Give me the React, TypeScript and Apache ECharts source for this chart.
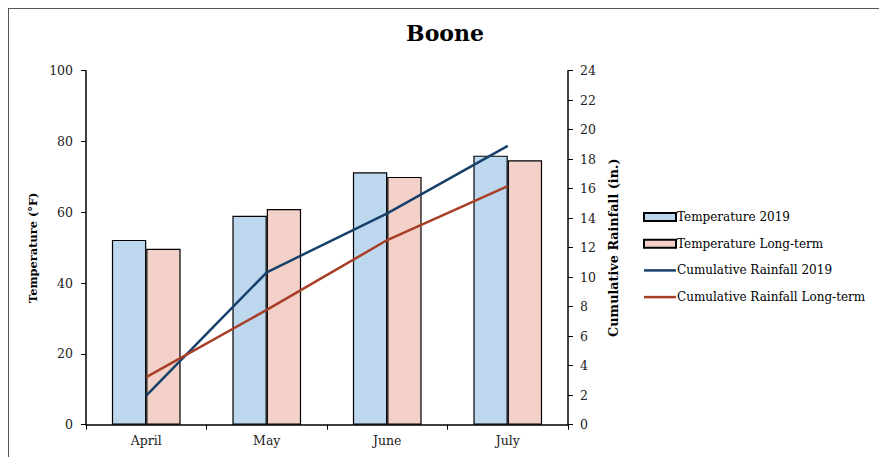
import React, { useEffect, useRef } from "react";
import * as echarts from "echarts";

const months = ["April", "May", "June", "July"];
const temp2019 = [52.2, 59.0, 71.3, 76.0];
const tempLongTerm = [49.7, 60.9, 70.0, 74.7];
const rain2019 = [1.97, 10.33, 14.33, 18.9];
const rainLongTerm = [3.23, 7.78, 12.52, 16.18];

const FONT = "DejaVu Serif";
const BLUE = "#17406A";
const RED = "#A93E27";
const LINE_ICON = "path://M0,0 L32,0 L32,2.5 L0,2.5 Z";

export default function App() {
  const ref = useRef<HTMLDivElement>(null);
  useEffect(() => {
    if (!ref.current) return;
    const chart = echarts.init(ref.current, null, { renderer: "svg" });
    chart.setOption({
      animation: false,
      textStyle: { fontFamily: FONT },
      title: {
        text: "Boone",
        left: 445,
        textAlign: "center",
        top: 22,
        padding: 0,
        textStyle: { fontFamily: FONT, fontWeight: "bold", fontSize: 22, color: "#000" },
      },
      legend: {
        orient: "vertical",
        left: 643,
        top: 211,
        padding: 0,
        itemWidth: 32,
        itemHeight: 8,
        itemGap: 14.7,
        textStyle: { fontFamily: FONT, fontSize: 12, color: "#000", padding: [0, 0, 0, -4] },
        data: [
          { name: "Temperature 2019", icon: "rect" },
          { name: "Temperature Long-term", icon: "rect" },
          {
            name: "Cumulative Rainfall 2019",
            icon: LINE_ICON,
            itemStyle: { color: BLUE, borderWidth: 0 },
          },
          {
            name: "Cumulative Rainfall Long-term",
            icon: LINE_ICON,
            itemStyle: { color: RED, borderWidth: 0 },
          },
        ],
      },
      grid: { left: 86, right: 311, top: 70.7, bottom: 32.3, containLabel: false },
      xAxis: {
        type: "category",
        data: months,
        axisLine: { lineStyle: { color: "#000", width: 1.5 } },
        axisTick: { show: true, alignWithLabel: false, length: 5, lineStyle: { color: "#000" } },
        axisLabel: { fontFamily: FONT, fontSize: 12.5, color: "#222", margin: 9 },
      },
      yAxis: [
        {
          type: "value",
          min: 0,
          max: 100,
          interval: 20,
          name: "Temperature (°F)",
          nameLocation: "middle",
          nameRotate: 90,
          nameGap: 47,
          nameTextStyle: { fontFamily: FONT, fontWeight: "bold", fontSize: 11.4, color: "#000" },
          axisLine: { show: true, lineStyle: { color: "#000", width: 1.5 } },
          axisTick: { show: true, length: 5, lineStyle: { color: "#000" } },
          axisLabel: { fontFamily: FONT, fontSize: 12.5, color: "#222", margin: 13 },
          splitLine: { show: false },
        },
        {
          type: "value",
          min: 0,
          max: 24,
          interval: 2,
          position: "right",
          name: "Cumulative Rainfall (in.)",
          nameLocation: "middle",
          nameRotate: 90,
          nameGap: 38,
          nameTextStyle: { fontFamily: FONT, fontWeight: "bold", fontSize: 12.8, color: "#000" },
          axisLine: { show: true, lineStyle: { color: "#000", width: 1.5 } },
          axisTick: { show: true, length: 5, lineStyle: { color: "#000" } },
          axisLabel: { fontFamily: FONT, fontSize: 12.5, color: "#222", margin: 12 },
          splitLine: { show: false },
        },
      ],
      series: [
        {
          name: "Temperature 2019",
          type: "bar",
          data: temp2019,
          barGap: "0%",
          barCategoryGap: "43%",
          itemStyle: { color: "#BDD7EE", borderColor: "#000", borderWidth: 1.2 },
        },
        {
          name: "Temperature Long-term",
          type: "bar",
          data: tempLongTerm,
          barGap: "0%",
          barCategoryGap: "43%",
          itemStyle: { color: "#F4D1C8", borderColor: "#000", borderWidth: 1.2 },
        },
        {
          name: "Cumulative Rainfall 2019",
          type: "line",
          yAxisIndex: 1,
          data: rain2019,
          symbol: "none",
          lineStyle: { color: BLUE, width: 2.5 },
          itemStyle: { color: BLUE },
        },
        {
          name: "Cumulative Rainfall Long-term",
          type: "line",
          yAxisIndex: 1,
          data: rainLongTerm,
          symbol: "none",
          lineStyle: { color: RED, width: 2.5 },
          itemStyle: { color: RED },
        },
      ],
    });
    return () => chart.dispose();
  }, []);
  return (
    <>
      <div
        style={{
          position: "absolute",
          left: 8,
          top: 8,
          width: 871,
          height: 449,
          borderTop: "1.5px solid #555",
          borderLeft: "1.5px solid #555",
          boxSizing: "border-box",
        }}
      />
      <div ref={ref} style={{ position: "absolute", left: 0, top: 0, width: 879, height: 457 }} />
    </>
  );
}
